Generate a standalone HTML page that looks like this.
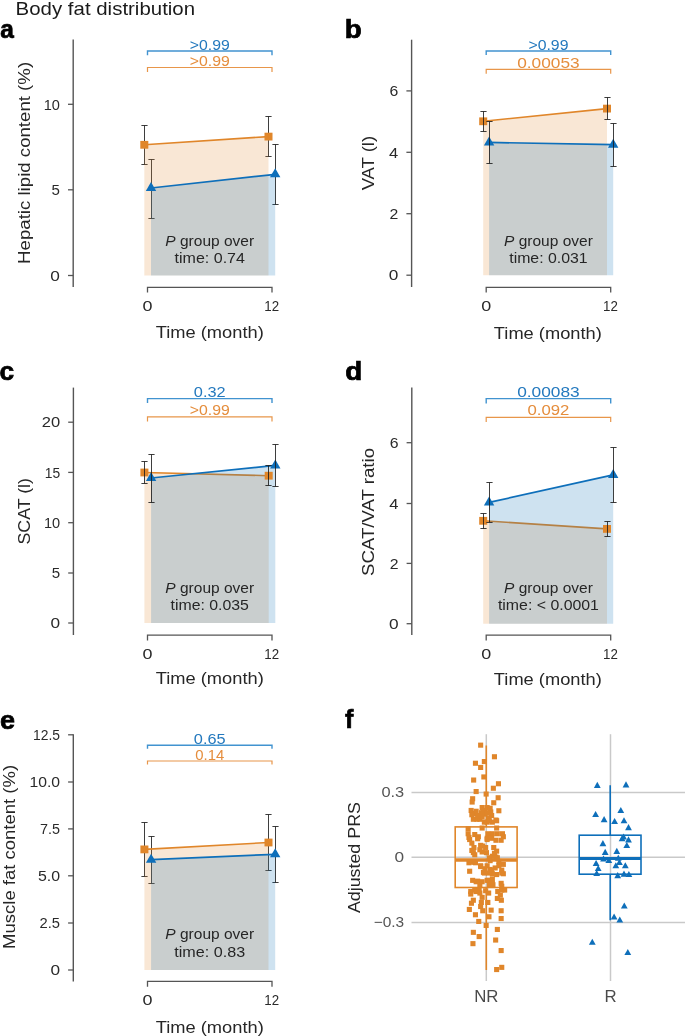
<!DOCTYPE html><html><head><meta charset="utf-8"><style>html,body{margin:0;padding:0;background:#fff;width:685px;height:1036px;overflow:hidden}svg{display:block;will-change:transform}text{font-family:"Liberation Sans", sans-serif}</style></head><body>
<svg width="685" height="1036" viewBox="0 0 685 1036">
<rect width="685" height="1036" fill="#fff"/>
<text x="15.6" y="14.8" font-size="19" text-anchor="start" fill="#1a1a1a" font-weight="normal" textLength="179.5" lengthAdjust="spacingAndGlyphs" >Body fat distribution</text>
<text x="0.2" y="37.8" font-size="25" text-anchor="start" fill="#000" font-weight="bold" textLength="13.6" lengthAdjust="spacingAndGlyphs" stroke="#000" stroke-width="0.7">a</text>
<text x="344.7" y="37.8" font-size="25" text-anchor="start" fill="#000" font-weight="bold" textLength="17.0" lengthAdjust="spacingAndGlyphs" stroke="#000" stroke-width="0.7">b</text>
<text x="-0.4" y="380.2" font-size="25" text-anchor="start" fill="#000" font-weight="bold" textLength="14.6" lengthAdjust="spacingAndGlyphs" stroke="#000" stroke-width="0.7">c</text>
<text x="345.2" y="380.4" font-size="25" text-anchor="start" fill="#000" font-weight="bold" textLength="17.0" lengthAdjust="spacingAndGlyphs" stroke="#000" stroke-width="0.7">d</text>
<text x="-0.1" y="728.5" font-size="25" text-anchor="start" fill="#000" font-weight="bold" textLength="15.0" lengthAdjust="spacingAndGlyphs" stroke="#000" stroke-width="0.7">e</text>
<text x="345.0" y="728.4" font-size="25" text-anchor="start" fill="#000" font-weight="bold" stroke="#000" stroke-width="0.7">f</text>
<line x1="73.2" y1="39.5" x2="73.2" y2="287" stroke="#555555" stroke-width="1.4"/>
<line x1="68.0" y1="104.3" x2="73.2" y2="104.3" stroke="#555555" stroke-width="1.3"/>
<text x="59.900000000000006" y="109.5" font-size="14.6" text-anchor="end" fill="#2a2a2a" font-weight="normal" textLength="16.2" lengthAdjust="spacingAndGlyphs" >10</text>
<line x1="68.0" y1="189.8" x2="73.2" y2="189.8" stroke="#555555" stroke-width="1.3"/>
<text x="59.900000000000006" y="195.0" font-size="14.6" text-anchor="end" fill="#2a2a2a" font-weight="normal" textLength="8.4" lengthAdjust="spacingAndGlyphs" >5</text>
<line x1="68.0" y1="275.5" x2="73.2" y2="275.5" stroke="#555555" stroke-width="1.3"/>
<text x="59.900000000000006" y="280.7" font-size="14.6" text-anchor="end" fill="#2a2a2a" font-weight="normal" textLength="9.6" lengthAdjust="spacingAndGlyphs" >0</text>
<text transform="translate(30.3,162.9) rotate(-90)" x="0" y="0" font-size="17.3" text-anchor="middle" fill="#262626" textLength="202" lengthAdjust="spacingAndGlyphs">Hepatic lipid content (%)</text>
<path d="M147.5,292.6V287.3H272.0V292.6" fill="none" stroke="#555555" stroke-width="1.3"/>
<text x="147.5" y="310.7" font-size="15.4" text-anchor="middle" fill="#2a2a2a" font-weight="normal" textLength="10.0" lengthAdjust="spacingAndGlyphs" >0</text>
<text x="271.7" y="310.7" font-size="15.4" text-anchor="middle" fill="#2a2a2a" font-weight="normal" textLength="14.8" lengthAdjust="spacingAndGlyphs" >12</text>
<text x="209.75" y="338.1" font-size="17.3" text-anchor="middle" fill="#262626" font-weight="normal" textLength="108" lengthAdjust="spacingAndGlyphs" >Time (month)</text>
<path d="M147.5,55.3V51.0H272.0V55.3" fill="none" stroke="#4193d0" stroke-width="1.4"/>
<path d="M147.5,71.9V67.5H272.0V71.9" fill="none" stroke="#e8964a" stroke-width="1.2"/>
<text x="209.75" y="49.5" font-size="15.3" text-anchor="middle" fill="#2479be" font-weight="normal" textLength="40" lengthAdjust="spacingAndGlyphs" >&gt;0.99</text>
<text x="209.75" y="65.6" font-size="15.3" text-anchor="middle" fill="#e58d3c" font-weight="normal" textLength="40" lengthAdjust="spacingAndGlyphs" >&gt;0.99</text>
<path d="M144.5,125.5V164.5M141.4,125.5H147.6M141.4,164.5H147.6" stroke="#1c1c1c" stroke-opacity="0.85" stroke-width="1.0" fill="none"/>
<path d="M268.5,116.5V156.5M265.4,116.5H271.6M265.4,156.5H271.6" stroke="#1c1c1c" stroke-opacity="0.85" stroke-width="1.0" fill="none"/>
<path d="M151.5,159.5V218.5M148.4,159.5H154.6M148.4,218.5H154.6" stroke="#1c1c1c" stroke-opacity="0.85" stroke-width="1.0" fill="none"/>
<path d="M275.5,144.5V204.5M272.4,144.5H278.6M272.4,204.5H278.6" stroke="#1c1c1c" stroke-opacity="0.85" stroke-width="1.0" fill="none"/>
<polygon points="144.3,275.5 144.3,144.8 268.5,136.6 268.5,275.5" fill="rgb(226,141,55)" fill-opacity="0.21"/>
<line x1="144.3" y1="144.8" x2="268.5" y2="136.6" stroke="#e0862a" stroke-width="1.6"/>
<polygon points="151.0,275.5 151.0,188.0 275.2,174.3 275.2,275.5" fill="rgb(10,110,180)" fill-opacity="0.2"/>
<line x1="151.0" y1="188.0" x2="275.2" y2="174.3" stroke="#0e6fba" stroke-width="1.7"/>
<rect x="140.3" y="140.9" width="8.0" height="7.8" fill="#e0862a"/>
<rect x="264.5" y="132.7" width="8.0" height="7.8" fill="#e0862a"/>
<polygon points="151.0,182.0 156.2,191.0 145.8,191.0" fill="#0e6fba"/>
<polygon points="275.2,168.3 280.4,177.3 270.0,177.3" fill="#0e6fba"/>
<text x="209.75" y="245.7" font-size="15" text-anchor="middle" fill="#262626" textLength="88.8" lengthAdjust="spacingAndGlyphs"><tspan font-style="italic">P</tspan> group over</text>
<text x="209.75" y="263.1" font-size="15" text-anchor="middle" fill="#262626" font-weight="normal" textLength="70.4" lengthAdjust="spacingAndGlyphs" >time: 0.74</text>
<line x1="411.6" y1="39.7" x2="411.6" y2="287" stroke="#555555" stroke-width="1.4"/>
<line x1="406.40000000000003" y1="90.9" x2="411.6" y2="90.9" stroke="#555555" stroke-width="1.3"/>
<text x="398.3" y="96.10000000000001" font-size="14.6" text-anchor="end" fill="#2a2a2a" font-weight="normal" textLength="8.8" lengthAdjust="spacingAndGlyphs" >6</text>
<line x1="406.40000000000003" y1="152.3" x2="411.6" y2="152.3" stroke="#555555" stroke-width="1.3"/>
<text x="398.3" y="157.5" font-size="14.6" text-anchor="end" fill="#2a2a2a" font-weight="normal" textLength="9.2" lengthAdjust="spacingAndGlyphs" >4</text>
<line x1="406.40000000000003" y1="213.7" x2="411.6" y2="213.7" stroke="#555555" stroke-width="1.3"/>
<text x="398.3" y="218.89999999999998" font-size="14.6" text-anchor="end" fill="#2a2a2a" font-weight="normal" textLength="8.8" lengthAdjust="spacingAndGlyphs" >2</text>
<line x1="406.40000000000003" y1="275.2" x2="411.6" y2="275.2" stroke="#555555" stroke-width="1.3"/>
<text x="398.3" y="280.4" font-size="14.6" text-anchor="end" fill="#2a2a2a" font-weight="normal" textLength="9.6" lengthAdjust="spacingAndGlyphs" >0</text>
<text transform="translate(374.0,163.1) rotate(-90)" x="0" y="0" font-size="17.3" text-anchor="middle" fill="#262626" textLength="54.5" lengthAdjust="spacingAndGlyphs">VAT (l)</text>
<path d="M486.2,292.6V287.3H610.7V292.6" fill="none" stroke="#555555" stroke-width="1.3"/>
<text x="486.2" y="310.7" font-size="15.4" text-anchor="middle" fill="#2a2a2a" font-weight="normal" textLength="10.0" lengthAdjust="spacingAndGlyphs" >0</text>
<text x="610.4000000000001" y="310.7" font-size="15.4" text-anchor="middle" fill="#2a2a2a" font-weight="normal" textLength="14.8" lengthAdjust="spacingAndGlyphs" >12</text>
<text x="547.85" y="338.6" font-size="17.3" text-anchor="middle" fill="#262626" font-weight="normal" textLength="108" lengthAdjust="spacingAndGlyphs" >Time (month)</text>
<path d="M486.2,54.9V51.0H610.7V54.9" fill="none" stroke="#4193d0" stroke-width="1.4"/>
<path d="M486.2,73.8V69.3H610.7V73.8" fill="none" stroke="#e8964a" stroke-width="1.2"/>
<text x="548.45" y="49.6" font-size="15.3" text-anchor="middle" fill="#2479be" font-weight="normal" textLength="40" lengthAdjust="spacingAndGlyphs" >&gt;0.99</text>
<text x="548.45" y="67.8" font-size="15.3" text-anchor="middle" fill="#e58d3c" font-weight="normal" textLength="62.5" lengthAdjust="spacingAndGlyphs" >0.00053</text>
<polygon points="483.2,275.2 483.2,121.3 607.0,108.6 607.0,275.2" fill="rgb(226,141,55)" fill-opacity="0.21"/>
<line x1="483.2" y1="121.3" x2="607.0" y2="108.6" stroke="#e0862a" stroke-width="1.6"/>
<polygon points="489.1,275.2 489.1,142.4 613.2,144.7 613.2,275.2" fill="rgb(10,110,180)" fill-opacity="0.2"/>
<line x1="489.1" y1="142.4" x2="613.2" y2="144.7" stroke="#0e6fba" stroke-width="1.7"/>
<rect x="479.2" y="117.39999999999999" width="8.0" height="7.8" fill="#e0862a"/>
<rect x="603.0" y="104.69999999999999" width="8.0" height="7.8" fill="#e0862a"/>
<polygon points="489.1,136.4 494.3,145.4 483.90000000000003,145.4" fill="#0e6fba"/>
<polygon points="613.2,138.7 618.4000000000001,147.7 608.0,147.7" fill="#0e6fba"/>
<path d="M483.5,111.5V131.5M480.4,111.5H486.6M480.4,131.5H486.6" stroke="#1c1c1c" stroke-opacity="0.85" stroke-width="1.0" fill="none"/>
<path d="M607.5,97.5V119.5M604.4,97.5H610.6M604.4,119.5H610.6" stroke="#1c1c1c" stroke-opacity="0.85" stroke-width="1.0" fill="none"/>
<path d="M489.5,121.5V163.5M486.4,121.5H492.6M486.4,163.5H492.6" stroke="#1c1c1c" stroke-opacity="0.85" stroke-width="1.0" fill="none"/>
<path d="M613.5,123.5V166.5M610.4,123.5H616.6M610.4,166.5H616.6" stroke="#1c1c1c" stroke-opacity="0.85" stroke-width="1.0" fill="none"/>
<text x="548.45" y="245.7" font-size="15" text-anchor="middle" fill="#262626" textLength="88.8" lengthAdjust="spacingAndGlyphs"><tspan font-style="italic">P</tspan> group over</text>
<text x="548.45" y="262.8" font-size="15" text-anchor="middle" fill="#262626" font-weight="normal" textLength="78.4" lengthAdjust="spacingAndGlyphs" >time: 0.031</text>
<line x1="73.4" y1="387.6" x2="73.4" y2="635" stroke="#555555" stroke-width="1.4"/>
<line x1="68.2" y1="422.2" x2="73.4" y2="422.2" stroke="#555555" stroke-width="1.3"/>
<text x="60.10000000000001" y="427.4" font-size="14.6" text-anchor="end" fill="#2a2a2a" font-weight="normal" textLength="18.4" lengthAdjust="spacingAndGlyphs" >20</text>
<line x1="68.2" y1="472.4" x2="73.4" y2="472.4" stroke="#555555" stroke-width="1.3"/>
<text x="60.10000000000001" y="477.59999999999997" font-size="14.6" text-anchor="end" fill="#2a2a2a" font-weight="normal" textLength="15.4" lengthAdjust="spacingAndGlyphs" >15</text>
<line x1="68.2" y1="522.7" x2="73.4" y2="522.7" stroke="#555555" stroke-width="1.3"/>
<text x="60.10000000000001" y="527.9000000000001" font-size="14.6" text-anchor="end" fill="#2a2a2a" font-weight="normal" textLength="16.2" lengthAdjust="spacingAndGlyphs" >10</text>
<line x1="68.2" y1="573.0" x2="73.4" y2="573.0" stroke="#555555" stroke-width="1.3"/>
<text x="60.10000000000001" y="578.2" font-size="14.6" text-anchor="end" fill="#2a2a2a" font-weight="normal" textLength="8.4" lengthAdjust="spacingAndGlyphs" >5</text>
<line x1="68.2" y1="623.0" x2="73.4" y2="623.0" stroke="#555555" stroke-width="1.3"/>
<text x="60.10000000000001" y="628.2" font-size="14.6" text-anchor="end" fill="#2a2a2a" font-weight="normal" textLength="9.6" lengthAdjust="spacingAndGlyphs" >0</text>
<text transform="translate(29.9,511.3) rotate(-90)" x="0" y="0" font-size="17.3" text-anchor="middle" fill="#262626" textLength="66.5" lengthAdjust="spacingAndGlyphs">SCAT (l)</text>
<path d="M147.5,640.4V635.1H272.0V640.4" fill="none" stroke="#555555" stroke-width="1.3"/>
<text x="147.5" y="658.5" font-size="15.4" text-anchor="middle" fill="#2a2a2a" font-weight="normal" textLength="10.0" lengthAdjust="spacingAndGlyphs" >0</text>
<text x="271.7" y="658.5" font-size="15.4" text-anchor="middle" fill="#2a2a2a" font-weight="normal" textLength="14.8" lengthAdjust="spacingAndGlyphs" >12</text>
<text x="209.75" y="684.1" font-size="17.3" text-anchor="middle" fill="#262626" font-weight="normal" textLength="108" lengthAdjust="spacingAndGlyphs" >Time (month)</text>
<path d="M147.5,402.90000000000003V398.6H272.0V402.90000000000003" fill="none" stroke="#4193d0" stroke-width="1.4"/>
<path d="M147.5,421.4V416.9H272.0V421.4" fill="none" stroke="#e8964a" stroke-width="1.2"/>
<text x="209.75" y="397.20000000000005" font-size="15.3" text-anchor="middle" fill="#2479be" font-weight="normal" textLength="31.8" lengthAdjust="spacingAndGlyphs" >0.32</text>
<text x="209.75" y="414.90000000000003" font-size="15.3" text-anchor="middle" fill="#e58d3c" font-weight="normal" textLength="40" lengthAdjust="spacingAndGlyphs" >&gt;0.99</text>
<polygon points="144.4,623.0 144.4,472.5 268.7,475.7 268.7,623.0" fill="rgb(226,141,55)" fill-opacity="0.21"/>
<line x1="144.4" y1="472.5" x2="268.7" y2="475.7" stroke="#e0862a" stroke-width="1.6"/>
<polygon points="151.1,623.0 151.1,478.0 275.3,465.4 275.3,623.0" fill="rgb(10,110,180)" fill-opacity="0.2"/>
<line x1="151.1" y1="478.0" x2="275.3" y2="465.4" stroke="#0e6fba" stroke-width="1.7"/>
<rect x="140.4" y="468.6" width="8.0" height="7.8" fill="#e0862a"/>
<rect x="264.7" y="471.8" width="8.0" height="7.8" fill="#e0862a"/>
<polygon points="151.1,472.0 156.29999999999998,481.0 145.9,481.0" fill="#0e6fba"/>
<polygon points="275.3,459.4 280.5,468.4 270.1,468.4" fill="#0e6fba"/>
<path d="M144.5,461.5V483.5M141.4,461.5H147.6M141.4,483.5H147.6" stroke="#1c1c1c" stroke-opacity="0.85" stroke-width="1.0" fill="none"/>
<path d="M268.5,465.5V485.5M265.4,465.5H271.6M265.4,485.5H271.6" stroke="#1c1c1c" stroke-opacity="0.85" stroke-width="1.0" fill="none"/>
<path d="M151.5,454.5V502.5M148.4,454.5H154.6M148.4,502.5H154.6" stroke="#1c1c1c" stroke-opacity="0.85" stroke-width="1.0" fill="none"/>
<path d="M275.5,444.5V486.5M272.4,444.5H278.6M272.4,486.5H278.6" stroke="#1c1c1c" stroke-opacity="0.85" stroke-width="1.0" fill="none"/>
<text x="209.75" y="592.7" font-size="15" text-anchor="middle" fill="#262626" textLength="88.8" lengthAdjust="spacingAndGlyphs"><tspan font-style="italic">P</tspan> group over</text>
<text x="209.75" y="610.1" font-size="15" text-anchor="middle" fill="#262626" font-weight="normal" textLength="78.4" lengthAdjust="spacingAndGlyphs" >time: 0.035</text>
<line x1="411.8" y1="387.6" x2="411.8" y2="635" stroke="#555555" stroke-width="1.4"/>
<line x1="406.6" y1="442.7" x2="411.8" y2="442.7" stroke="#555555" stroke-width="1.3"/>
<text x="398.5" y="447.9" font-size="14.6" text-anchor="end" fill="#2a2a2a" font-weight="normal" textLength="8.8" lengthAdjust="spacingAndGlyphs" >6</text>
<line x1="406.6" y1="503.5" x2="411.8" y2="503.5" stroke="#555555" stroke-width="1.3"/>
<text x="398.5" y="508.7" font-size="14.6" text-anchor="end" fill="#2a2a2a" font-weight="normal" textLength="9.2" lengthAdjust="spacingAndGlyphs" >4</text>
<line x1="406.6" y1="563.4" x2="411.8" y2="563.4" stroke="#555555" stroke-width="1.3"/>
<text x="398.5" y="568.6" font-size="14.6" text-anchor="end" fill="#2a2a2a" font-weight="normal" textLength="8.8" lengthAdjust="spacingAndGlyphs" >2</text>
<line x1="406.6" y1="623.7" x2="411.8" y2="623.7" stroke="#555555" stroke-width="1.3"/>
<text x="398.5" y="628.9000000000001" font-size="14.6" text-anchor="end" fill="#2a2a2a" font-weight="normal" textLength="9.6" lengthAdjust="spacingAndGlyphs" >0</text>
<text transform="translate(374.0,512.0) rotate(-90)" x="0" y="0" font-size="17.3" text-anchor="middle" fill="#262626" textLength="128" lengthAdjust="spacingAndGlyphs">SCAT/VAT ratio</text>
<path d="M486.2,640.4V635.1H610.7V640.4" fill="none" stroke="#555555" stroke-width="1.3"/>
<text x="486.2" y="658.5" font-size="15.4" text-anchor="middle" fill="#2a2a2a" font-weight="normal" textLength="10.0" lengthAdjust="spacingAndGlyphs" >0</text>
<text x="610.4000000000001" y="658.5" font-size="15.4" text-anchor="middle" fill="#2a2a2a" font-weight="normal" textLength="14.8" lengthAdjust="spacingAndGlyphs" >12</text>
<text x="547.85" y="684.9" font-size="17.3" text-anchor="middle" fill="#262626" font-weight="normal" textLength="108" lengthAdjust="spacingAndGlyphs" >Time (month)</text>
<path d="M486.2,403.6V398.6H610.7V403.6" fill="none" stroke="#4193d0" stroke-width="1.4"/>
<path d="M486.2,422.0V417.4H610.7V422.0" fill="none" stroke="#e8964a" stroke-width="1.2"/>
<text x="548.45" y="397.20000000000005" font-size="15.3" text-anchor="middle" fill="#2479be" font-weight="normal" textLength="62.6" lengthAdjust="spacingAndGlyphs" >0.00083</text>
<text x="548.45" y="415.1" font-size="15.3" text-anchor="middle" fill="#e58d3c" font-weight="normal" textLength="41.9" lengthAdjust="spacingAndGlyphs" >0.092</text>
<polygon points="483.2,623.7 483.2,520.8 607.0,528.9 607.0,623.7" fill="rgb(226,141,55)" fill-opacity="0.21"/>
<line x1="483.2" y1="520.8" x2="607.0" y2="528.9" stroke="#e0862a" stroke-width="1.6"/>
<polygon points="489.1,623.7 489.1,502.4 613.2,474.9 613.2,623.7" fill="rgb(10,110,180)" fill-opacity="0.2"/>
<line x1="489.1" y1="502.4" x2="613.2" y2="474.9" stroke="#0e6fba" stroke-width="1.7"/>
<rect x="479.2" y="516.9" width="8.0" height="7.8" fill="#e0862a"/>
<rect x="603.0" y="525.0" width="8.0" height="7.8" fill="#e0862a"/>
<polygon points="489.1,496.4 494.3,505.4 483.90000000000003,505.4" fill="#0e6fba"/>
<polygon points="613.2,468.9 618.4000000000001,477.9 608.0,477.9" fill="#0e6fba"/>
<path d="M483.5,513.5V528.5M480.4,513.5H486.6M480.4,528.5H486.6" stroke="#1c1c1c" stroke-opacity="0.85" stroke-width="1.0" fill="none"/>
<path d="M607.5,521.5V536.5M604.4,521.5H610.6M604.4,536.5H610.6" stroke="#1c1c1c" stroke-opacity="0.85" stroke-width="1.0" fill="none"/>
<path d="M489.5,482.5V522.5M486.4,482.5H492.6M486.4,522.5H492.6" stroke="#1c1c1c" stroke-opacity="0.85" stroke-width="1.0" fill="none"/>
<path d="M613.5,447.5V502.5M610.4,447.5H616.6M610.4,502.5H616.6" stroke="#1c1c1c" stroke-opacity="0.85" stroke-width="1.0" fill="none"/>
<text x="548.45" y="592.5" font-size="15" text-anchor="middle" fill="#262626" textLength="88.8" lengthAdjust="spacingAndGlyphs"><tspan font-style="italic">P</tspan> group over</text>
<text x="548.45" y="609.9" font-size="15" text-anchor="middle" fill="#262626" font-weight="normal" textLength="101" lengthAdjust="spacingAndGlyphs" >time: &lt; 0.0001</text>
<line x1="73.3" y1="734.2" x2="73.3" y2="981.5" stroke="#555555" stroke-width="1.4"/>
<line x1="68.1" y1="734.8" x2="73.3" y2="734.8" stroke="#555555" stroke-width="1.3"/>
<text x="60.0" y="740.0" font-size="14.6" text-anchor="end" fill="#2a2a2a" font-weight="normal" textLength="27.0" lengthAdjust="spacingAndGlyphs" >12.5</text>
<line x1="68.1" y1="782.0" x2="73.3" y2="782.0" stroke="#555555" stroke-width="1.3"/>
<text x="60.0" y="787.2" font-size="14.6" text-anchor="end" fill="#2a2a2a" font-weight="normal" textLength="30.6" lengthAdjust="spacingAndGlyphs" >10.0</text>
<line x1="68.1" y1="828.9" x2="73.3" y2="828.9" stroke="#555555" stroke-width="1.3"/>
<text x="60.0" y="834.1" font-size="14.6" text-anchor="end" fill="#2a2a2a" font-weight="normal" textLength="20.0" lengthAdjust="spacingAndGlyphs" >7.5</text>
<line x1="68.1" y1="875.8" x2="73.3" y2="875.8" stroke="#555555" stroke-width="1.3"/>
<text x="60.0" y="881.0" font-size="14.6" text-anchor="end" fill="#2a2a2a" font-weight="normal" textLength="22.1" lengthAdjust="spacingAndGlyphs" >5.0</text>
<line x1="68.1" y1="923.0" x2="73.3" y2="923.0" stroke="#555555" stroke-width="1.3"/>
<text x="60.0" y="928.2" font-size="14.6" text-anchor="end" fill="#2a2a2a" font-weight="normal" textLength="20.5" lengthAdjust="spacingAndGlyphs" >2.5</text>
<line x1="68.1" y1="970.0" x2="73.3" y2="970.0" stroke="#555555" stroke-width="1.3"/>
<text x="60.0" y="975.2" font-size="14.6" text-anchor="end" fill="#2a2a2a" font-weight="normal" textLength="9.6" lengthAdjust="spacingAndGlyphs" >0</text>
<text transform="translate(14.8,856.9) rotate(-90)" x="0" y="0" font-size="17.3" text-anchor="middle" fill="#262626" textLength="184" lengthAdjust="spacingAndGlyphs">Muscle fat content (%)</text>
<path d="M147.5,986.6999999999999V981.4H272.0V986.6999999999999" fill="none" stroke="#555555" stroke-width="1.3"/>
<text x="147.5" y="1005.4" font-size="15.4" text-anchor="middle" fill="#2a2a2a" font-weight="normal" textLength="10.0" lengthAdjust="spacingAndGlyphs" >0</text>
<text x="271.7" y="1005.4" font-size="15.4" text-anchor="middle" fill="#2a2a2a" font-weight="normal" textLength="14.8" lengthAdjust="spacingAndGlyphs" >12</text>
<text x="209.75" y="1032.7" font-size="17.3" text-anchor="middle" fill="#262626" font-weight="normal" textLength="108" lengthAdjust="spacingAndGlyphs" >Time (month)</text>
<path d="M147.5,748.6999999999999V745.3H272.0V748.6999999999999" fill="none" stroke="#4193d0" stroke-width="1.4"/>
<path d="M147.5,764.6V761.0H272.0V764.6" fill="none" stroke="#e8964a" stroke-width="1.2"/>
<text x="209.75" y="743.7" font-size="15.3" text-anchor="middle" fill="#2479be" font-weight="normal" textLength="31.8" lengthAdjust="spacingAndGlyphs" >0.65</text>
<text x="209.75" y="759.6" font-size="15.3" text-anchor="middle" fill="#e58d3c" font-weight="normal" textLength="29" lengthAdjust="spacingAndGlyphs" >0.14</text>
<path d="M144.5,822.5V876.5M141.4,822.5H147.6M141.4,876.5H147.6" stroke="#1c1c1c" stroke-opacity="0.85" stroke-width="1.0" fill="none"/>
<path d="M268.5,814.5V870.5M265.4,814.5H271.6M265.4,870.5H271.6" stroke="#1c1c1c" stroke-opacity="0.85" stroke-width="1.0" fill="none"/>
<path d="M151.5,836.5V883.5M148.4,836.5H154.6M148.4,883.5H154.6" stroke="#1c1c1c" stroke-opacity="0.85" stroke-width="1.0" fill="none"/>
<path d="M275.5,826.5V882.5M272.4,826.5H278.6M272.4,882.5H278.6" stroke="#1c1c1c" stroke-opacity="0.85" stroke-width="1.0" fill="none"/>
<polygon points="144.4,970.0 144.4,849.4 268.5,842.5 268.5,970.0" fill="rgb(226,141,55)" fill-opacity="0.21"/>
<line x1="144.4" y1="849.4" x2="268.5" y2="842.5" stroke="#e0862a" stroke-width="1.6"/>
<polygon points="151.1,970.0 151.1,859.7 275.2,854.3 275.2,970.0" fill="rgb(10,110,180)" fill-opacity="0.2"/>
<line x1="151.1" y1="859.7" x2="275.2" y2="854.3" stroke="#0e6fba" stroke-width="1.7"/>
<rect x="140.4" y="845.5" width="8.0" height="7.8" fill="#e0862a"/>
<rect x="264.5" y="838.6" width="8.0" height="7.8" fill="#e0862a"/>
<polygon points="151.1,853.7 156.29999999999998,862.7 145.9,862.7" fill="#0e6fba"/>
<polygon points="275.2,848.3 280.4,857.3 270.0,857.3" fill="#0e6fba"/>
<text x="209.75" y="939.2" font-size="15" text-anchor="middle" fill="#262626" textLength="88.8" lengthAdjust="spacingAndGlyphs"><tspan font-style="italic">P</tspan> group over</text>
<text x="209.75" y="957.1" font-size="15" text-anchor="middle" fill="#262626" font-weight="normal" textLength="70.9" lengthAdjust="spacingAndGlyphs" >time: 0.83</text>
<line x1="411.5" y1="792.4" x2="685" y2="792.4" stroke="#c9c9c9" stroke-width="1.5"/>
<line x1="411.5" y1="857.2" x2="685" y2="857.2" stroke="#c9c9c9" stroke-width="1.5"/>
<line x1="411.5" y1="922.6" x2="685" y2="922.6" stroke="#c9c9c9" stroke-width="1.5"/>
<line x1="486.3" y1="734.2" x2="486.3" y2="981" stroke="#c9c9c9" stroke-width="1.5"/>
<line x1="610.5" y1="734.2" x2="610.5" y2="981" stroke="#c9c9c9" stroke-width="1.5"/>
<text x="404.2" y="796.8" font-size="14.6" text-anchor="end" fill="#555" font-weight="normal" textLength="22.8" lengthAdjust="spacingAndGlyphs" >0.3</text>
<text x="404.2" y="861.6" font-size="14.6" text-anchor="end" fill="#555" font-weight="normal" textLength="9.6" lengthAdjust="spacingAndGlyphs" >0</text>
<text x="404.2" y="927.0" font-size="14.6" text-anchor="end" fill="#555" font-weight="normal" textLength="30.5" lengthAdjust="spacingAndGlyphs" >&#8722;0.3</text>
<text transform="translate(360.1,857.6) rotate(-90)" x="0" y="0" font-size="17.3" text-anchor="middle" fill="#262626" textLength="111" lengthAdjust="spacingAndGlyphs">Adjusted PRS</text>
<text x="486.3" y="1001.8" font-size="16.8" text-anchor="middle" fill="#4a4a4a" font-weight="normal" >NR</text>
<text x="610.5" y="1001.8" font-size="16.8" text-anchor="middle" fill="#4a4a4a" font-weight="normal" >R</text>
<path d="M486.3,745.5V826.9M486.3,887.5V970" stroke="#e0862a" stroke-width="1.6"/>
<rect x="478.1" y="742.6" width="5.1" height="5.1" fill="#e0862a"/>
<rect x="491.9" y="754.2" width="5.1" height="5.1" fill="#e0862a"/>
<rect x="472.9" y="760.7" width="5.1" height="5.1" fill="#e0862a"/>
<rect x="481.8" y="759.0" width="5.1" height="5.1" fill="#e0862a"/>
<rect x="478.1" y="764.9" width="5.1" height="5.1" fill="#e0862a"/>
<rect x="481.3" y="774.4" width="5.1" height="5.1" fill="#e0862a"/>
<rect x="471.1" y="777.5" width="5.1" height="5.1" fill="#e0862a"/>
<rect x="495.9" y="781.2" width="5.1" height="5.1" fill="#e0862a"/>
<rect x="490.8" y="785.7" width="5.1" height="5.1" fill="#e0862a"/>
<rect x="473.6" y="789.0" width="5.1" height="5.1" fill="#e0862a"/>
<rect x="483.6" y="791.5" width="5.1" height="5.1" fill="#e0862a"/>
<rect x="470.1" y="796.2" width="5.1" height="5.1" fill="#e0862a"/>
<rect x="469.6" y="799.5" width="5.1" height="5.1" fill="#e0862a"/>
<rect x="495.6" y="795.2" width="5.1" height="5.1" fill="#e0862a"/>
<rect x="491.2" y="800.2" width="5.1" height="5.1" fill="#e0862a"/>
<rect x="468.6" y="807.9" width="5.1" height="5.1" fill="#e0862a"/>
<rect x="472.2" y="810.9" width="5.1" height="5.1" fill="#e0862a"/>
<rect x="479.6" y="805.0" width="5.1" height="5.1" fill="#e0862a"/>
<rect x="484.6" y="805.0" width="5.1" height="5.1" fill="#e0862a"/>
<rect x="478.8" y="810.1" width="5.1" height="5.1" fill="#e0862a"/>
<rect x="488.2" y="809.4" width="5.1" height="5.1" fill="#e0862a"/>
<rect x="482.4" y="811.6" width="5.1" height="5.1" fill="#e0862a"/>
<rect x="496.3" y="808.2" width="5.1" height="5.1" fill="#e0862a"/>
<rect x="470.8" y="816.7" width="5.1" height="5.1" fill="#e0862a"/>
<rect x="474.4" y="816.7" width="5.1" height="5.1" fill="#e0862a"/>
<rect x="486.1" y="815.2" width="5.1" height="5.1" fill="#e0862a"/>
<rect x="484.6" y="819.6" width="5.1" height="5.1" fill="#e0862a"/>
<rect x="489.8" y="819.6" width="5.1" height="5.1" fill="#e0862a"/>
<rect x="494.1" y="818.2" width="5.1" height="5.1" fill="#e0862a"/>
<rect x="479.6" y="825.5" width="5.1" height="5.1" fill="#e0862a"/>
<rect x="465.6" y="826.2" width="5.1" height="5.1" fill="#e0862a"/>
<rect x="465.6" y="831.2" width="5.1" height="5.1" fill="#e0862a"/>
<rect x="466.4" y="834.9" width="5.1" height="5.1" fill="#e0862a"/>
<rect x="472.2" y="832.0" width="5.1" height="5.1" fill="#e0862a"/>
<rect x="475.8" y="834.2" width="5.1" height="5.1" fill="#e0862a"/>
<rect x="485.3" y="831.2" width="5.1" height="5.1" fill="#e0862a"/>
<rect x="489.8" y="831.2" width="5.1" height="5.1" fill="#e0862a"/>
<rect x="494.1" y="825.5" width="5.1" height="5.1" fill="#e0862a"/>
<rect x="494.8" y="831.2" width="5.1" height="5.1" fill="#e0862a"/>
<rect x="499.9" y="831.2" width="5.1" height="5.1" fill="#e0862a"/>
<rect x="500.8" y="834.2" width="5.1" height="5.1" fill="#e0862a"/>
<rect x="484.6" y="835.7" width="5.1" height="5.1" fill="#e0862a"/>
<rect x="489.1" y="835.7" width="5.1" height="5.1" fill="#e0862a"/>
<rect x="467.1" y="837.0" width="5.1" height="5.1" fill="#e0862a"/>
<rect x="469.3" y="840.6" width="5.1" height="5.1" fill="#e0862a"/>
<rect x="475.1" y="836.2" width="5.1" height="5.1" fill="#e0862a"/>
<rect x="484.6" y="837.0" width="5.1" height="5.1" fill="#e0862a"/>
<rect x="493.4" y="837.7" width="5.1" height="5.1" fill="#e0862a"/>
<rect x="498.6" y="837.7" width="5.1" height="5.1" fill="#e0862a"/>
<rect x="478.1" y="842.8" width="5.1" height="5.1" fill="#e0862a"/>
<rect x="483.1" y="845.0" width="5.1" height="5.1" fill="#e0862a"/>
<rect x="479.6" y="849.4" width="5.1" height="5.1" fill="#e0862a"/>
<rect x="469.3" y="847.9" width="5.1" height="5.1" fill="#e0862a"/>
<rect x="472.2" y="852.2" width="5.1" height="5.1" fill="#e0862a"/>
<rect x="491.2" y="845.0" width="5.1" height="5.1" fill="#e0862a"/>
<rect x="494.1" y="848.6" width="5.1" height="5.1" fill="#e0862a"/>
<rect x="489.8" y="853.7" width="5.1" height="5.1" fill="#e0862a"/>
<rect x="493.4" y="854.5" width="5.1" height="5.1" fill="#e0862a"/>
<rect x="466.4" y="860.2" width="5.1" height="5.1" fill="#e0862a"/>
<rect x="472.2" y="859.6" width="5.1" height="5.1" fill="#e0862a"/>
<rect x="487.6" y="858.1" width="5.1" height="5.1" fill="#e0862a"/>
<rect x="496.3" y="858.9" width="5.1" height="5.1" fill="#e0862a"/>
<rect x="500.8" y="861.8" width="5.1" height="5.1" fill="#e0862a"/>
<rect x="478.1" y="864.0" width="5.1" height="5.1" fill="#e0862a"/>
<rect x="482.4" y="866.2" width="5.1" height="5.1" fill="#e0862a"/>
<rect x="487.6" y="866.9" width="5.1" height="5.1" fill="#e0862a"/>
<rect x="492.6" y="865.4" width="5.1" height="5.1" fill="#e0862a"/>
<rect x="499.2" y="867.6" width="5.1" height="5.1" fill="#e0862a"/>
<rect x="500.8" y="871.2" width="5.1" height="5.1" fill="#e0862a"/>
<rect x="467.1" y="868.7" width="5.1" height="5.1" fill="#e0862a"/>
<rect x="481.8" y="870.5" width="5.1" height="5.1" fill="#e0862a"/>
<rect x="489.8" y="871.2" width="5.1" height="5.1" fill="#e0862a"/>
<rect x="494.1" y="872.0" width="5.1" height="5.1" fill="#e0862a"/>
<rect x="470.1" y="877.8" width="5.1" height="5.1" fill="#e0862a"/>
<rect x="475.1" y="878.6" width="5.1" height="5.1" fill="#e0862a"/>
<rect x="477.3" y="882.2" width="5.1" height="5.1" fill="#e0862a"/>
<rect x="486.1" y="877.8" width="5.1" height="5.1" fill="#e0862a"/>
<rect x="489.8" y="876.4" width="5.1" height="5.1" fill="#e0862a"/>
<rect x="486.8" y="882.2" width="5.1" height="5.1" fill="#e0862a"/>
<rect x="490.4" y="882.2" width="5.1" height="5.1" fill="#e0862a"/>
<rect x="498.6" y="880.8" width="5.1" height="5.1" fill="#e0862a"/>
<rect x="499.2" y="883.7" width="5.1" height="5.1" fill="#e0862a"/>
<rect x="468.2" y="889.0" width="5.1" height="5.1" fill="#e0862a"/>
<rect x="468.2" y="891.5" width="5.1" height="5.1" fill="#e0862a"/>
<rect x="472.2" y="887.5" width="5.1" height="5.1" fill="#e0862a"/>
<rect x="476.6" y="887.5" width="5.1" height="5.1" fill="#e0862a"/>
<rect x="483.1" y="888.2" width="5.1" height="5.1" fill="#e0862a"/>
<rect x="479.6" y="894.8" width="5.1" height="5.1" fill="#e0862a"/>
<rect x="470.8" y="897.7" width="5.1" height="5.1" fill="#e0862a"/>
<rect x="468.9" y="900.7" width="5.1" height="5.1" fill="#e0862a"/>
<rect x="478.8" y="899.9" width="5.1" height="5.1" fill="#e0862a"/>
<rect x="485.3" y="899.9" width="5.1" height="5.1" fill="#e0862a"/>
<rect x="478.1" y="904.0" width="5.1" height="5.1" fill="#e0862a"/>
<rect x="495.2" y="889.0" width="5.1" height="5.1" fill="#e0862a"/>
<rect x="499.2" y="887.5" width="5.1" height="5.1" fill="#e0862a"/>
<rect x="502.1" y="887.5" width="5.1" height="5.1" fill="#e0862a"/>
<rect x="497.8" y="892.6" width="5.1" height="5.1" fill="#e0862a"/>
<rect x="494.8" y="895.9" width="5.1" height="5.1" fill="#e0862a"/>
<rect x="498.8" y="897.7" width="5.1" height="5.1" fill="#e0862a"/>
<rect x="466.8" y="906.9" width="5.1" height="5.1" fill="#e0862a"/>
<rect x="480.2" y="908.2" width="5.1" height="5.1" fill="#e0862a"/>
<rect x="488.6" y="907.6" width="5.1" height="5.1" fill="#e0862a"/>
<rect x="498.6" y="908.2" width="5.1" height="5.1" fill="#e0862a"/>
<rect x="472.9" y="912.2" width="5.1" height="5.1" fill="#e0862a"/>
<rect x="486.4" y="914.2" width="5.1" height="5.1" fill="#e0862a"/>
<rect x="498.6" y="916.0" width="5.1" height="5.1" fill="#e0862a"/>
<rect x="476.2" y="918.9" width="5.1" height="5.1" fill="#e0862a"/>
<rect x="483.6" y="922.9" width="5.1" height="5.1" fill="#e0862a"/>
<rect x="494.8" y="926.9" width="5.1" height="5.1" fill="#e0862a"/>
<rect x="470.8" y="929.8" width="5.1" height="5.1" fill="#e0862a"/>
<rect x="476.6" y="934.0" width="5.1" height="5.1" fill="#e0862a"/>
<rect x="493.1" y="937.5" width="5.1" height="5.1" fill="#e0862a"/>
<rect x="470.4" y="941.1" width="5.1" height="5.1" fill="#e0862a"/>
<rect x="498.6" y="948.0" width="5.1" height="5.1" fill="#e0862a"/>
<rect x="494.1" y="967.0" width="5.1" height="5.1" fill="#e0862a"/>
<rect x="499.2" y="964.8" width="5.1" height="5.1" fill="#e0862a"/>
<rect x="477.3" y="816.7" width="5.1" height="5.1" fill="#e0862a"/>
<rect x="479.6" y="814.5" width="5.1" height="5.1" fill="#e0862a"/>
<rect x="487.6" y="805.7" width="5.1" height="5.1" fill="#e0862a"/>
<rect x="489.1" y="813.0" width="5.1" height="5.1" fill="#e0862a"/>
<rect x="473.6" y="808.7" width="5.1" height="5.1" fill="#e0862a"/>
<rect x="469.3" y="812.2" width="5.1" height="5.1" fill="#e0862a"/>
<rect x="486.8" y="818.2" width="5.1" height="5.1" fill="#e0862a"/>
<rect x="481.8" y="819.6" width="5.1" height="5.1" fill="#e0862a"/>
<rect x="493.4" y="817.5" width="5.1" height="5.1" fill="#e0862a"/>
<rect x="475.1" y="813.0" width="5.1" height="5.1" fill="#e0862a"/>
<rect x="480.9" y="807.9" width="5.1" height="5.1" fill="#e0862a"/>
<rect x="484.6" y="810.1" width="5.1" height="5.1" fill="#e0862a"/>
<rect x="480.2" y="843.5" width="5.1" height="5.1" fill="#e0862a"/>
<rect x="477.3" y="847.2" width="5.1" height="5.1" fill="#e0862a"/>
<rect x="483.9" y="850.1" width="5.1" height="5.1" fill="#e0862a"/>
<rect x="471.4" y="845.0" width="5.1" height="5.1" fill="#e0862a"/>
<rect x="470.8" y="850.1" width="5.1" height="5.1" fill="#e0862a"/>
<rect x="491.9" y="850.8" width="5.1" height="5.1" fill="#e0862a"/>
<rect x="486.8" y="855.2" width="5.1" height="5.1" fill="#e0862a"/>
<rect x="494.8" y="855.2" width="5.1" height="5.1" fill="#e0862a"/>
<rect x="469.3" y="859.6" width="5.1" height="5.1" fill="#e0862a"/>
<rect x="472.9" y="860.2" width="5.1" height="5.1" fill="#e0862a"/>
<rect x="478.1" y="863.2" width="5.1" height="5.1" fill="#e0862a"/>
<rect x="484.6" y="863.2" width="5.1" height="5.1" fill="#e0862a"/>
<rect x="489.1" y="867.6" width="5.1" height="5.1" fill="#e0862a"/>
<rect x="496.3" y="863.2" width="5.1" height="5.1" fill="#e0862a"/>
<rect x="499.2" y="870.5" width="5.1" height="5.1" fill="#e0862a"/>
<rect x="486.1" y="870.5" width="5.1" height="5.1" fill="#e0862a"/>
<rect x="480.9" y="869.8" width="5.1" height="5.1" fill="#e0862a"/>
<rect x="484.6" y="877.8" width="5.1" height="5.1" fill="#e0862a"/>
<rect x="473.6" y="879.2" width="5.1" height="5.1" fill="#e0862a"/>
<rect x="489.8" y="880.8" width="5.1" height="5.1" fill="#e0862a"/>
<rect x="479.6" y="879.2" width="5.1" height="5.1" fill="#e0862a"/>
<rect x="473.6" y="889.0" width="5.1" height="5.1" fill="#e0862a"/>
<rect x="477.3" y="890.5" width="5.1" height="5.1" fill="#e0862a"/>
<rect x="486.1" y="890.5" width="5.1" height="5.1" fill="#e0862a"/>
<rect x="455.2" y="826.9" width="61.9" height="60.6" fill="none" stroke="#e0862a" stroke-width="1.6"/>
<line x1="455.2" y1="860.0" x2="517.1" y2="860.0" stroke="#e0862a" stroke-width="3.6"/>
<path d="M610.2,785.2V835M610.2,874.5V920.2" stroke="#0e6fba" stroke-width="1.6"/>
<polygon points="597.3,781.8 600.7,787.9 593.9,787.9" fill="#0e6fba"/>
<polygon points="626.0,781.3 629.4,787.4 622.6,787.4" fill="#0e6fba"/>
<polygon points="620.8,806.9 624.2,813.0 617.4,813.0" fill="#0e6fba"/>
<polygon points="595.6,810.9 599.0,817.0 592.2,817.0" fill="#0e6fba"/>
<polygon points="604.1,816.1 607.5,822.2 600.7,822.2" fill="#0e6fba"/>
<polygon points="614.6,817.9 618.0,824.0 611.2,824.0" fill="#0e6fba"/>
<polygon points="624.0,817.2 627.4,823.3 620.6,823.3" fill="#0e6fba"/>
<polygon points="628.5,824.1 631.9,830.2 625.1,830.2" fill="#0e6fba"/>
<polygon points="622.1,835.1 625.5,841.2 618.7,841.2" fill="#0e6fba"/>
<polygon points="628.5,836.3 631.9,842.4 625.1,842.4" fill="#0e6fba"/>
<polygon points="626.8,842.0 630.2,848.1 623.4,848.1" fill="#0e6fba"/>
<polygon points="602.9,840.1 606.3,846.2 599.5,846.2" fill="#0e6fba"/>
<polygon points="605.2,848.8 608.6,854.9 601.8,854.9" fill="#0e6fba"/>
<polygon points="616.8,847.8 620.2,853.9 613.4,853.9" fill="#0e6fba"/>
<polygon points="618.3,854.7 621.7,860.8 614.9,860.8" fill="#0e6fba"/>
<polygon points="603.5,855.4 606.9,861.5 600.1,861.5" fill="#0e6fba"/>
<polygon points="608.8,856.9 612.2,863.0 605.4,863.0" fill="#0e6fba"/>
<polygon points="596.1,860.0 599.5,866.1 592.7,866.1" fill="#0e6fba"/>
<polygon points="615.8,862.2 619.2,868.3 612.4,868.3" fill="#0e6fba"/>
<polygon points="619.4,859.0 622.8,865.1 616.0,865.1" fill="#0e6fba"/>
<polygon points="625.3,862.2 628.7,868.3 621.9,868.3" fill="#0e6fba"/>
<polygon points="598.2,864.9 601.6,871.0 594.8,871.0" fill="#0e6fba"/>
<polygon points="596.7,870.0 600.1,876.1 593.3,876.1" fill="#0e6fba"/>
<polygon points="617.7,872.1 621.1,878.2 614.3,878.2" fill="#0e6fba"/>
<polygon points="624.0,870.6 627.4,876.7 620.6,876.7" fill="#0e6fba"/>
<polygon points="628.9,871.0 632.3,877.1 625.5,877.1" fill="#0e6fba"/>
<polygon points="624.3,902.4 627.7,908.5 620.9,908.5" fill="#0e6fba"/>
<polygon points="614.1,913.5 617.5,919.6 610.7,919.6" fill="#0e6fba"/>
<polygon points="619.8,916.5 623.2,922.6 616.4,922.6" fill="#0e6fba"/>
<polygon points="592.3,938.7 595.7,944.8 588.9,944.8" fill="#0e6fba"/>
<polygon points="627.8,948.9 631.2,955.0 624.4,955.0" fill="#0e6fba"/>
<polygon points="623.6,833.5 627.0,839.6 620.2,839.6" fill="#0e6fba"/>
<rect x="579.2" y="835.2" width="61.8" height="39.0" fill="none" stroke="#0e6fba" stroke-width="1.6"/>
<line x1="579.3" y1="858.5" x2="641" y2="858.5" stroke="#0e6fba" stroke-width="3.2"/>
</svg></body></html>
